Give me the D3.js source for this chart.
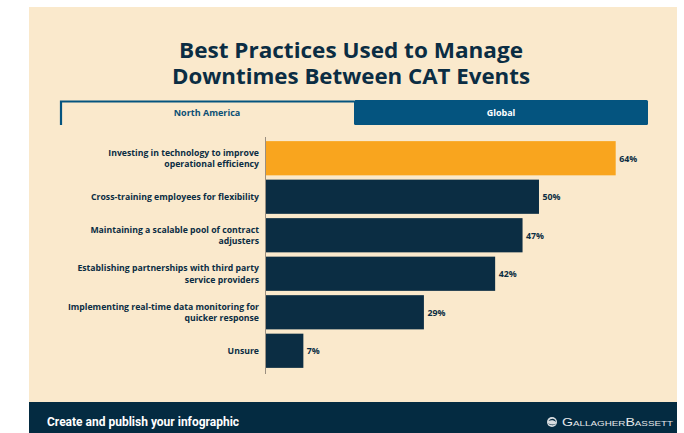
<!DOCTYPE html>
<html>
<head>
<meta charset="utf-8">
<script src="https://cdn.jsdelivr.net/npm/d3@7/dist/d3.min.js"></script>
<style>
  html, body { margin: 0; padding: 0; background: #ffffff; }
  svg { display: block; }
</style>
</head>
<body>
<script>
// Survey answers (North America tab)
const categories = [
  ["Investing in technology to improve", "operational efficiency"],
  ["Cross-training employees for flexibility"],
  ["Maintaining a scalable pool of contract", "adjusters"],
  ["Establishing partnerships with third party", "service providers"],
  ["Implementing real-time data monitoring for", "quicker response"],
  ["Unsure"]
];
const values = [64, 50, 47, 42, 29, 7];
const valueLabels = ["64%", "50%", "47%", "42%", "29%", "7%"];
const highlighted = [true, false, false, false, false, false];
const titleLines = ["Best Practices Used to Manage", "Downtimes Between CAT Events"];
const tabs = ["North America", "Global"];

const W = 684, H = 433;
const cream = "#fae9cc", navy = "#0b2d43", orange = "#f9a51e", tabBlue = "#04547f", footer = "#042b41";

const svg = d3.select("body").append("svg").attr("width", W).attr("height", H);

// panel
svg.append("rect").attr("x", 29).attr("y", 7).attr("width", 648).attr("height", 426).attr("fill", cream);

// title
svg.append("g").selectAll("text").data(titleLines).join("text")
  .attr("x", 351).attr("y", (d, i) => 57.5 + i * 26)
  .attr("text-anchor", "middle")
  .attr("font-family", "'Open Sans', sans-serif").attr("font-weight", 700)
  .attr("font-size", 21).attr("fill", navy)
  .attr("textLength", (d, i) => i === 0 ? 344 : 358)
  .attr("lengthAdjust", "spacingAndGlyphs")
  .text(d => d);

// tabs
const tabX = d3.scaleBand().domain(tabs).range([60, 648]).paddingInner(0);
const tabG = svg.append("g");
tabG.append("rect").attr("x", tabX("Global")).attr("y", 100).attr("width", tabX.bandwidth()).attr("height", 25)
  .attr("fill", tabBlue).attr("rx", 1.5);
tabG.append("path")
  .attr("d", `M${tabX("North America") + 1},125 V101.5 H${tabX("Global")}`)
  .attr("fill", "none").attr("stroke", tabBlue).attr("stroke-width", 2.2);
tabG.selectAll("text").data(tabs).join("text")
  .attr("x", d => tabX(d) + tabX.bandwidth() / 2).attr("y", 116)
  .attr("text-anchor", "middle")
  .attr("font-family", "'Open Sans', sans-serif").attr("font-weight", 700)
  .attr("font-size", 9).attr("fill", (d, i) => i === 0 ? "#0b4f74" : "#ffffff")
  .text(d => d);

// bars
const x = d3.scaleLinear().domain([0, 64]).range([265, 615.7]);
const y = d3.scaleBand().domain(d3.range(values.length)).range([139.2, 369.8]).paddingInner(0.112).paddingOuter(0.05);

const chart = svg.append("g");
chart.selectAll("rect.bar").data(values).join("rect")
  .attr("class", "bar")
  .attr("x", x(0)).attr("y", (d, i) => y(i))
  .attr("width", d => x(d) - x(0)).attr("height", y.bandwidth())
  .attr("fill", (d, i) => highlighted[i] ? orange : navy);

// axis line
chart.append("line").attr("x1", 265.5).attr("x2", 265.5).attr("y1", 137).attr("y2", 374)
  .attr("stroke", "#9a8f80").attr("stroke-width", 1);

// value labels
chart.selectAll("text.val").data(values).join("text")
  .attr("class", "val")
  .attr("x", d => x(d) + 3.5).attr("y", (d, i) => y(i) + y.bandwidth() / 2 + 3.3)
  .attr("font-family", "'Open Sans', sans-serif").attr("font-weight", 700)
  .attr("font-size", 8.8).attr("fill", navy)
  .text((d, i) => valueLabels[i]);

// category labels
const cat = chart.selectAll("text.cat").data(categories).join("text")
  .attr("class", "cat")
  .attr("text-anchor", "end")
  .attr("font-family", "'Open Sans', sans-serif").attr("font-weight", 700)
  .attr("font-size", 8.7).attr("fill", navy);
cat.each(function(lines, i) {
  const mid = y(i) + y.bandwidth() / 2;
  const lh = 11.5;
  const top = mid - (lines.length - 1) * lh / 2 + 3.1;
  d3.select(this).selectAll("tspan").data(lines).join("tspan")
    .attr("x", 259).attr("y", (d, j) => top + j * lh).text(d => d);
});

// footer
svg.append("rect").attr("x", 29).attr("y", 402).attr("width", 648).attr("height", 31).attr("fill", footer);
svg.append("text").attr("x", 47).attr("y", 426)
  .attr("font-family", "Roboto, sans-serif").attr("font-weight", 700)
  .attr("font-size", 12).attr("fill", "#ffffff")
  .text("Create and publish your infographic");

// logo mark
const logo = svg.append("g").attr("transform", "translate(552,422)");
logo.append("circle").attr("r", 5).attr("fill", "#d9dde0");
logo.append("path").attr("d", "M-3.5,-1 C-1,-4 3,-4 4,0 C2,-2 -1,-2 -3.5,-1 Z M-4,1 C-1,3 3,3 4.5,1 C3,4 -2,4 -4,1 Z")
  .attr("fill", footer);
svg.append("text").attr("x", 673).attr("y", 426).attr("text-anchor", "end")
  .attr("font-family", "'Liberation Sans', sans-serif")
  .attr("font-size", 11.5).attr("fill", "#e6e8ea")
  .attr("textLength", 111).attr("lengthAdjust", "spacingAndGlyphs")
  .style("font-variant", "small-caps")
  .text("GallagherBassett");
</script>
</body>
</html>
